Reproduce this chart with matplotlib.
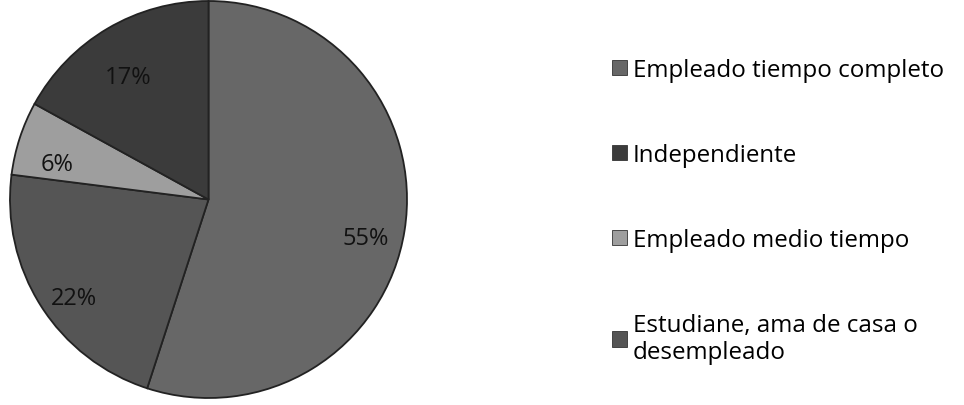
import matplotlib.pyplot as plt
from matplotlib.patches import Patch

plt.rcParams['font.family'] = ['Open Sans', 'DejaVu Sans']

categorias = ['Empleado tiempo completo', 'Independiente',
              'Empleado medio tiempo', 'Estudiane, ama de casa o\ndesempleado']
porcentajes = [55, 17, 6, 22]
colores = ['#676767', '#3b3b3b', '#9e9e9e', '#555555']

# orden del pastel (en sentido horario desde arriba)
orden = [0, 3, 2, 1]

fig = plt.figure(figsize=(9.64, 4.06), dpi=100)
ax = fig.add_axes([10 / 964, 7 / 406, 397 / 964, 397 / 406])

wedges, textos, autotextos = ax.pie(
    [porcentajes[i] for i in orden],
    colors=[colores[i] for i in orden],
    startangle=90, counterclock=False,
    autopct='%1.0f%%', pctdistance=0.8,
    wedgeprops=dict(edgecolor='#222222', linewidth=1.3),
    textprops=dict(fontsize=17, color='#111111'))
# etiquetas un poco mas abajo, como en excel
for t in autotextos:
    x, y = t.get_position()
    t.set_position((x, y - 0.07))
ax.set_xlim(-1.0, 1.0)
ax.set_ylim(-1.0, 1.0)
ax.set_aspect('equal')

handles = [Patch(facecolor=c, edgecolor='#333333', linewidth=0.6) for c in colores]
fig.legend(handles, categorias, loc='upper left', bbox_to_anchor=(612 / 964, 1 - 59 / 406),
           frameon=False, fontsize=17.4, handlelength=0.6, handleheight=0.6,
           handletextpad=0.25, labelspacing=2.52, borderpad=0, borderaxespad=0)

plt.savefig('out.png', dpi=100)
